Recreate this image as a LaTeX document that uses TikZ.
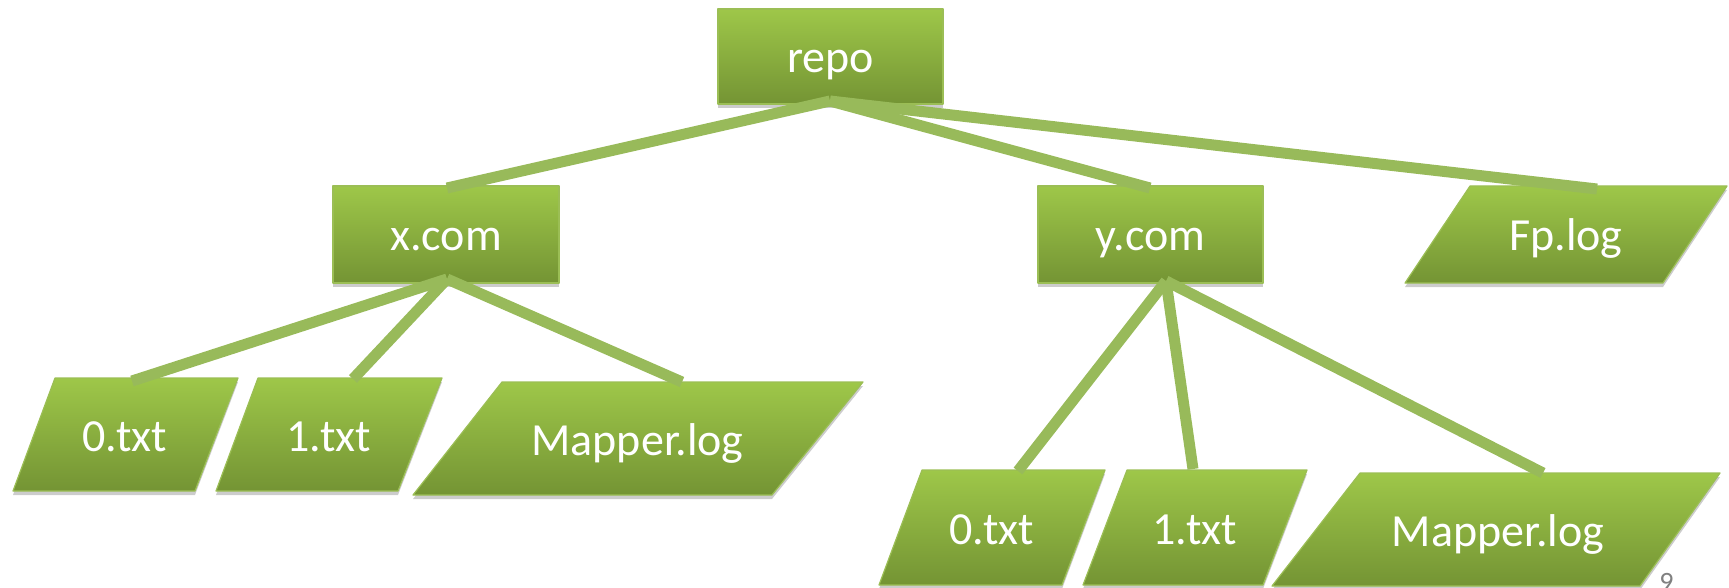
\documentclass[tikz,border=0pt]{standalone}
\usepackage{fontspec}
\setmainfont{Carlito}
\usetikzlibrary{shadows}
\definecolor{gtop}{RGB}{158,199,73}
\definecolor{gbot}{RGB}{116,148,52}
\definecolor{gedge}{RGB}{155,190,85}
\definecolor{gline}{RGB}{152,186,90}
\definecolor{pnum}{RGB}{128,128,128}
\begin{document}
\begin{tikzpicture}[x=1pt,y=-1pt,
  greenshape/.style={top color=gtop, bottom color=gbot, draw=gedge, line width=1.2pt, line join=round,
     drop shadow={shadow xshift=0pt, shadow yshift=-4pt, opacity=0.25, fill=black!80}},
  lbl/.style={text=white, font=\fontsize{46}{50}\selectfont, inner sep=0pt, anchor=base},
  conn/.style={draw=gline, line width=11pt}]
\useasboundingbox (0,0) rectangle (1729,588);

% boxes
\path[greenshape] (718,9) rectangle (943,104);
\path[greenshape] (333,186) rectangle (559,283);
\path[greenshape] (1038,186) rectangle (1263,283);
\path[greenshape] (1470,186) -- (1727,186) -- (1663,283) -- (1405,283) -- cycle;
\path[greenshape] (55,378) -- (238,378) -- (195,491) -- (13,491) -- cycle;
\path[greenshape] (258,378) -- (442,378) -- (398,491) -- (216,491) -- cycle;
\path[greenshape] (502,382) -- (863,382) -- (772,495) -- (413,495) -- cycle;
\path[greenshape] (922,470) -- (1105,470) -- (1062,585) -- (879,585) -- cycle;
\path[greenshape] (1127,470) -- (1307,470) -- (1263,585) -- (1083,585) -- cycle;
\path[greenshape] (1360,473) -- (1720,473) -- (1640,586) -- (1272,586) -- cycle;

% labels
\node[lbl] (repo) at (830.5,73) {repo};
\node[lbl] (xcom) at (446,251) {x.com};
\node[lbl] (ycom) at (1150.5,251) {y.com};
\node[lbl] (fplog) at (1566,251) {Fp.log};
\node[lbl] (xzero) at (125,451) {0.txt};
\node[lbl] (xone) at (328.5,451) {1.txt};
\node[lbl] (xmapper) at (637.5,455) {Mapper.log};
\node[lbl] (yzero) at (992,544) {0.txt};
\node[lbl] (yone) at (1195,544) {1.txt};
\node[lbl] (ymapper) at (1498,546) {Mapper.log};
\node[text=pnum, font=\fontsize{28}{30}\selectfont, inner sep=0pt, anchor=base] (pagenum) at (1666.5,591) {9};

% connector points
\coordinate (repo-out) at (830,101);
\coordinate (xcom-in) at (447,188);
\coordinate (ycom-in) at (1150,188);
\coordinate (fplog-in) at (1597,189);
\coordinate (xcom-out) at (447,279);
\coordinate (xzero-in) at (132,381);
\coordinate (xone-in) at (353,379);
\coordinate (xmapper-in) at (682,382);
\coordinate (ycom-out) at (1166,281);
\coordinate (yzero-in) at (1018,471);
\coordinate (yone-in) at (1193,469);
\coordinate (ymapper-in) at (1543,473);

% connectors
\draw[conn] (repo-out) -- (xcom-in);
\draw[conn] (repo-out) -- (ycom-in);
\draw[conn] (repo-out) -- (fplog-in);
\draw[conn] (xcom-out) -- (xzero-in);
\draw[conn] (xcom-out) -- (xone-in);
\draw[conn] (xcom-out) -- (xmapper-in);
\draw[conn] (ycom-out) -- (yzero-in);
\draw[conn] (ycom-out) -- (yone-in);
\draw[conn] (ycom-out) -- (ymapper-in);
\end{tikzpicture}
\end{document}
